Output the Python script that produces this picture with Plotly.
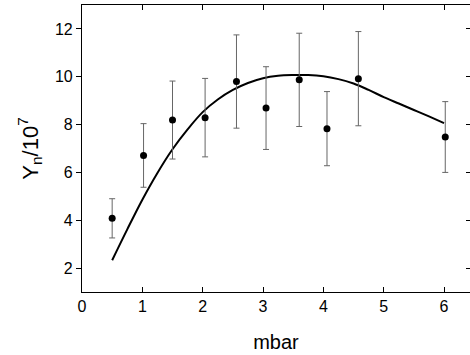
import plotly.graph_objects as go

pressure = [0.5, 1.02, 1.5, 2.04, 2.56, 3.05, 3.6, 4.06, 4.58, 6.02]
yield_n = [4.08, 6.71, 8.19, 8.29, 9.80, 8.69, 9.87, 7.83, 9.92, 7.48]
yield_err = [0.82, 1.33, 1.63, 1.64, 1.95, 1.73, 1.95, 1.55, 1.97, 1.48]

fit_x = [0.5, 0.75, 1.0, 1.25, 1.5, 1.75, 2.0, 2.25, 2.5, 2.75, 3.0, 3.25, 3.5,
         3.75, 4.0, 4.25, 4.5, 4.75, 5.0, 5.25, 5.5, 5.75, 6.0]
fit_y = [2.33, 3.62, 4.86, 5.98, 6.97, 7.8, 8.52, 9.05, 9.45, 9.74, 9.94, 10.04, 10.07,
         10.07, 10.02, 9.9, 9.72, 9.45, 9.15, 8.88, 8.61, 8.34, 8.06]

x_ticks = [0, 1, 2, 3, 4, 5, 6]
y_ticks = [2, 4, 6, 8, 10, 12]

font_family = "Liberation Sans, Arial, sans-serif"

fig = go.Figure()
fig.add_trace(go.Scatter(
    x=fit_x, y=fit_y, mode="lines", line=dict(color="black", width=2, shape="spline"),
    showlegend=False, hoverinfo="skip"))
fig.add_trace(go.Scatter(
    x=pressure, y=yield_n, mode="markers",
    marker=dict(color="black", size=7),
    error_y=dict(type="data", array=yield_err, visible=True, color="#666666",
                 thickness=1, width=3),
    showlegend=False))
# invisible trace on right axis for mirrored ticks
fig.add_trace(go.Scatter(x=[None], y=[None], yaxis="y2", showlegend=False))

fig.update_layout(
    width=470, height=355,
    margin=dict(l=82, r=0, t=5, b=63),
    paper_bgcolor="white", plot_bgcolor="white",
    font=dict(family=font_family, color="black", size=16),
    xaxis=dict(range=[0, 6.43], tickvals=x_ticks, ticks="inside", ticklen=5,
               tickwidth=1.2, tickcolor="black", showline=True, linecolor="black",
               linewidth=1.2, mirror="ticks", showgrid=False, zeroline=False,
               tickfont=dict(size=16),
               title=dict(text="mbar", font=dict(size=20), standoff=20)),
    yaxis=dict(range=[1, 13], tickvals=y_ticks, ticks="outside", ticklen=5,
               tickwidth=1.2, tickcolor="black", showline=True, linecolor="black",
               linewidth=1.2, showgrid=False, zeroline=False,
               tickfont=dict(size=16),
               title=dict(text="Y<sub>n</sub>/10<sup>7</sup>", font=dict(size=22),
                          standoff=10)),
    yaxis2=dict(range=[1, 13], tickvals=y_ticks, overlaying="y", side="right",
                ticks="inside", ticklen=4, tickwidth=1.2, tickcolor="black",
                showline=False, showticklabels=False, showgrid=False, zeroline=False),
)

fig.write_html("out.html")
